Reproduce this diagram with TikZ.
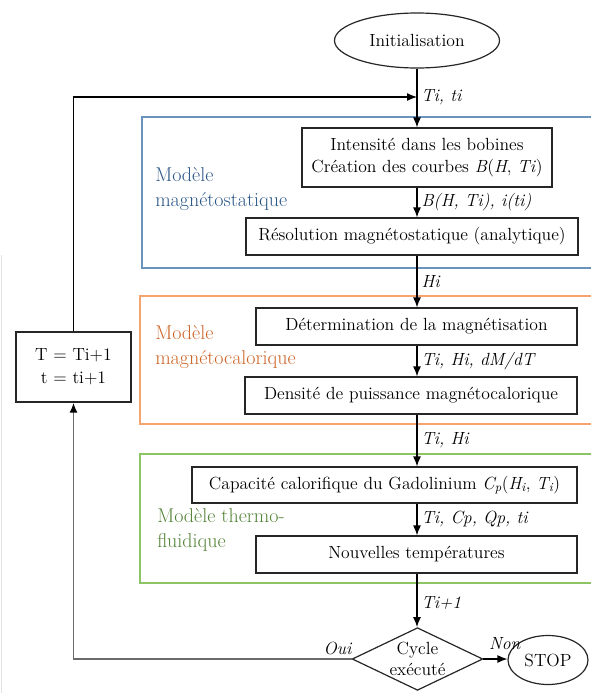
\documentclass[tikz,border=0pt]{standalone}
\usepackage{xcolor}
\usepackage{tikz}
\usetikzlibrary{positioning,arrows.meta,calc,shapes.geometric}
\definecolor{zoneblue}{HTML}{6A93BE}
\definecolor{txtblue}{HTML}{2A5686}
\definecolor{zoneorange}{HTML}{F5A46E}
\definecolor{txtorange}{HTML}{CC6426}
\definecolor{zonegreen}{HTML}{8CC466}
\definecolor{txtgreen}{HTML}{528236}
\tikzset{
  proc/.style   ={draw=black!85, rectangle, align=center, fill=white, line width=0.9pt, inner sep=2pt, font=\fontsize{13.2}{17}\selectfont},
  term/.style   ={draw=black!85, ellipse, align=center, fill=white, line width=0.9pt, inner sep=1pt, font=\fontsize{13.2}{17}\selectfont},
  decide/.style ={draw=black!85, diamond, aspect=2.08, align=center, fill=white, line width=0.9pt, inner sep=0pt, font=\fontsize{13.2}{16}\selectfont},
  zone/.style   ={line width=1pt},
  zlbl/.style   ={anchor=west, align=left, inner sep=0pt, font=\fontsize{15}{18.75}\selectfont},
  lbl/.style    ={anchor=west, inner sep=1pt, xshift=2pt, font=\fontsize{13.2}{17}\selectfont\itshape},
  arr/.style    ={-{Latex[length=7.5pt,width=6pt]}, line width=0.9pt},
  back/.style   ={-{Latex[length=7.5pt,width=6pt,black]}, line width=1.4pt, draw=black!58},
}
\begin{document}
\begin{tikzpicture}[x=0.75pt,y=-0.75pt]
  \useasboundingbox (0,0) rectangle (590,693);
  \draw[gray!22, line width=0.8pt] (1.5,255) -- (1.5,693);

  % zones des trois modeles
  \draw[zone, draw=zoneblue]   (142,117) rectangle (600,268);
  \draw[zone, draw=zoneorange] (140,296) rectangle (600,424);
  \draw[zone, draw=zonegreen]  (140,454) rectangle (600,583);
  \node[zlbl, text=txtblue]   (zmag)  at (155,189.5) {Modèle\\magnétostatique};
  \node[zlbl, text=txtorange] (zcal)  at (155,347.5) {Modèle\\magnétocalorique};
  \node[zlbl, text=txtgreen]  (zther) at (157,530)   {Modèle thermo-\\fluidique};

  % blocs
  \node[term, minimum width=123.75pt, minimum height=41.25pt] (init) at (417,40.5) {Initialisation};
  \coordinate (entree) at (417,97);
  \node[proc, minimum width=187.5pt, minimum height=44.25pt] (bob) at (427,157.5) {Intensité dans les bobines\\Création des courbes \textit{B}(\textit{H}, \textit{Ti})};
  \node[proc, minimum width=249pt, minimum height=27.75pt] (res) at (412,236.5) {Résolution magnétostatique (analytique)};
  \node[proc, minimum width=240.75pt, minimum height=27.75pt] (aim) at (416.5,326.5) {Détermination de la magnétisation};
  \node[proc, minimum width=249pt, minimum height=27.75pt] (dens) at (411,395.5) {Densité de puissance magnétocalorique};
  \node[proc, minimum width=288.75pt, minimum height=27pt] (cap) at (384.5,485) {Capacité calorifique du Gadolinium \textit{C\textsubscript{p}}(\textit{H\textsubscript{i}}, \textit{T\textsubscript{i}})};
  \node[proc, minimum width=240.75pt, minimum height=27.75pt] (temp) at (416.5,554.5) {Nouvelles températures};
  \node[decide, minimum width=98pt, minimum height=47pt] (cyc) at (417.5,659) {Cycle\\exécuté};
  \node[term, minimum width=60pt, minimum height=36.75pt] (stop) at (548,660) {STOP};
  \node[proc, minimum width=86.25pt, minimum height=52.5pt] (maj) at (73.5,367) {T = Ti+1\\t = ti+1};

  % liaisons
  \draw[arr] (init.south -| entree) -- (entree |- bob.north);
  \draw[arr] (maj.north) |- (entree);
  \node[lbl] (lti) at (entree) {Ti, ti};
  \draw[arr] (bob.south -| entree) -- (entree |- res.north) node[lbl, midway] (lb) {B(H, Ti), i(ti)};
  \draw[arr] (res.south -| entree) -- (entree |- aim.north) node[lbl, midway] (lh) {Hi};
  \draw[arr] (aim.south -| entree) -- (entree |- dens.north) node[lbl, midway] (ldm) {Ti, Hi, dM/dT};
  \draw[arr] (dens.south -| entree) -- (entree |- cap.north) node[lbl, midway] (lth) {Ti, Hi};
  \draw[arr] (cap.south -| entree) -- (entree |- temp.north) node[lbl, midway] (lcp) {Ti, Cp, Qp, ti};
  \draw[arr] (temp.south -| entree) -- (entree |- cyc.north) node[lbl, pos=0.55] (lt1) {Ti+1};
  \draw[arr] (cyc.east) -- (stop.west |- cyc.east);
  \node[lbl, anchor=south west, xshift=1pt, yshift=6pt] (lnon) at (cyc.east) {Non};
  \draw[back] (cyc.west) -| (maj.south);
  \node[lbl, anchor=south east, xshift=-1pt, yshift=2pt] (loui) at (cyc.west) {Oui};
\end{tikzpicture}
\end{document}
